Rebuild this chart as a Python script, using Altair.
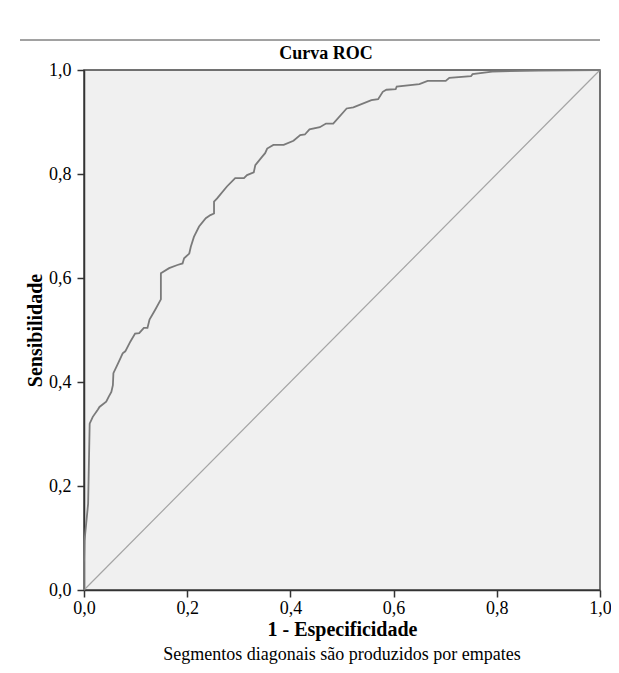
import altair as alt
import pandas as pd

# ROC curve points (1 - specificity, sensitivity)
fpr = [0.0, 0.0, 0.001, 0.008, 0.011, 0.017, 0.027, 0.030, 0.043, 0.048, 0.053, 0.056,
       0.057, 0.066, 0.075, 0.080, 0.090, 0.099, 0.107, 0.116, 0.123, 0.127, 0.138,
       0.149, 0.149, 0.165, 0.181, 0.191, 0.194, 0.204, 0.207, 0.213, 0.223, 0.236,
       0.245, 0.252, 0.252, 0.258, 0.277, 0.293, 0.310, 0.316, 0.329, 0.332, 0.345,
       0.351, 0.355, 0.367, 0.387, 0.406, 0.419, 0.428, 0.437, 0.457, 0.469, 0.483,
       0.509, 0.522, 0.557, 0.570, 0.579, 0.586, 0.604, 0.606, 0.650, 0.666, 0.701,
       0.708, 0.750, 0.753, 0.791, 0.881, 1.0]
tpr = [0.0, 0.05, 0.095, 0.166, 0.320, 0.333, 0.347, 0.352, 0.362, 0.372, 0.381, 0.394,
       0.417, 0.436, 0.455, 0.459, 0.478, 0.493, 0.494, 0.504, 0.504, 0.520, 0.539,
       0.559, 0.609, 0.619, 0.625, 0.628, 0.638, 0.647, 0.660, 0.679, 0.699, 0.715,
       0.721, 0.724, 0.747, 0.753, 0.776, 0.792, 0.792, 0.798, 0.803, 0.817, 0.833,
       0.840, 0.849, 0.856, 0.856, 0.864, 0.875, 0.876, 0.886, 0.890, 0.897, 0.897,
       0.926, 0.928, 0.942, 0.944, 0.958, 0.962, 0.963, 0.968, 0.973, 0.979, 0.979,
       0.985, 0.988, 0.992, 0.997, 0.999, 1.0]
diag_x = [0.0, 1.0]
diag_y = [0.0, 1.0]
tick_values = [0.0, 0.2, 0.4, 0.6, 0.8, 1.0]

title_text = "Curva ROC"
x_title = "1 - Especificidade"
y_title = "Sensibilidade"
footnote = "Segmentos diagonais são produzidos por empates"

FONT = "Liberation Serif"
FS_TICK = 18
FS_AXT = 20
FS_TITLE = 18
FS_NOTE = 18

curve_df = pd.DataFrame({"fpr": fpr, "tpr": tpr, "i": list(range(len(fpr)))})
diag_df = pd.DataFrame({"fpr": diag_x, "tpr": diag_y})
note_df = pd.DataFrame({"t": [footnote]})
title_df = pd.DataFrame({"t": [title_text]})

label_expr = "replace(format(datum.value, '.1f'), '.', ',')"

x_enc = alt.X("fpr:Q",
              scale=alt.Scale(domain=[0, 1], nice=False, zero=False),
              axis=alt.Axis(values=tick_values, labelExpr=label_expr, title=x_title,
                            grid=False, tickSize=7, tickWidth=1.5, tickColor="#333",
                            domainColor="#333", domainWidth=1.5,
                            labelFont=FONT, labelFontSize=FS_TICK, labelColor="black",
                            labelPadding=2, titleFont=FONT, titleFontSize=FS_AXT,
                            titleFontWeight="bold", titleColor="black", titlePadding=2,
                            labelFlush=False))
y_enc = alt.Y("tpr:Q",
              scale=alt.Scale(domain=[0, 1], nice=False, zero=False),
              axis=alt.Axis(values=tick_values, labelExpr=label_expr, title=y_title,
                            grid=False, tickSize=7, tickWidth=1.5, tickColor="#333",
                            domainColor="#333", domainWidth=1.5,
                            labelFont=FONT, labelFontSize=FS_TICK, labelColor="black",
                            labelPadding=6, titleFont=FONT, titleFontSize=FS_AXT,
                            titleFontWeight="bold", titleColor="black", titlePadding=3,
                            labelFlush=False))

diag = alt.Chart(diag_df).mark_line(color="#a4a4a4", strokeWidth=1.2).encode(x=x_enc, y=y_enc)
curve = alt.Chart(curve_df).mark_line(color="#7a7a7a", strokeWidth=1.8).encode(
    x=x_enc, y=y_enc, order=alt.Order("i:Q"))

note = alt.Chart(note_df).mark_text(font=FONT, fontSize=FS_NOTE, color="black",
                                    align="center", baseline="middle").encode(
    x=alt.value(258), y=alt.value(585), text="t:N")

title = alt.Chart(title_df).mark_text(font=FONT, fontSize=FS_TITLE, fontWeight="bold",
                                      color="black", align="center",
                                      baseline="middle").encode(
    x=alt.value(242), y=alt.value(-16), text="t:N")

top_rule = alt.Chart(note_df).mark_rule(color="#444", strokeWidth=1).encode(
    x=alt.value(-64), x2=alt.value(516), y=alt.value(-30))

chart = alt.layer(diag, curve, note, title, top_rule).properties(
    width=516, height=520,
    autosize=alt.AutoSizeParams(type="none"),
    padding={"left": 76, "top": 62, "right": 11, "bottom": 80},
).configure_view(fill="#f0f0f0", stroke="#444", strokeWidth=1.5)

chart.save("out.html", embed_options={"renderer": "svg", "actions": False})
